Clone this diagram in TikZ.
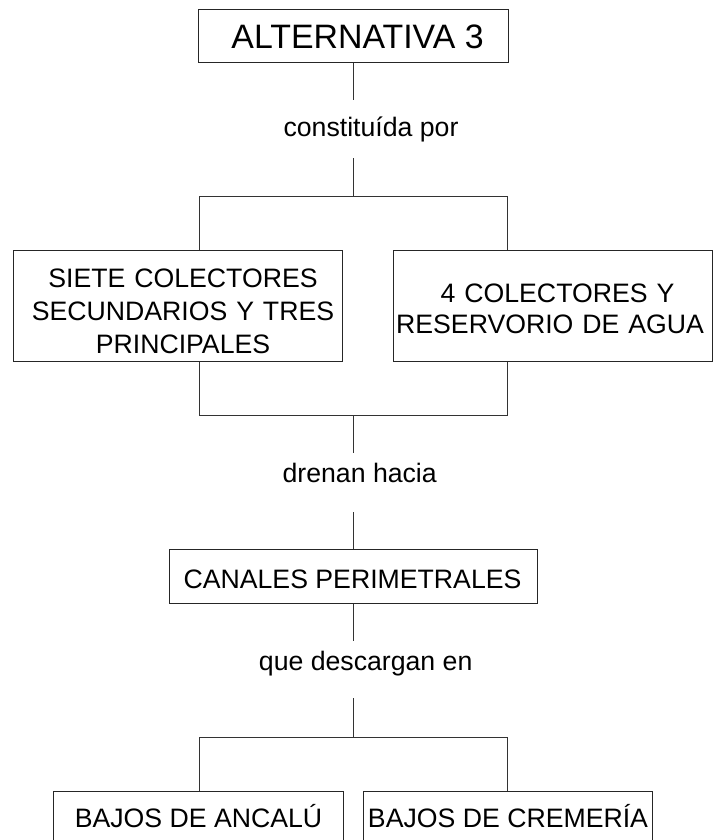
\documentclass[tikz,border=0pt]{standalone}
\usepackage{fontspec}
\setmainfont{Liberation Sans}
\begin{document}
\begin{tikzpicture}[x=0.75pt,y=-0.75pt,
  box/.style={draw=black!85,line width=0.75pt,rectangle,inner sep=0pt},
  txt/.style={inner sep=0pt,anchor=base,font=\fontsize{20}{24}\selectfont},
  conn/.style={draw=black!80,line width=0.75pt}]
\useasboundingbox (0,0) rectangle (713,840);
\clip (0,0) rectangle (713,840);
% boxes
\node[box,minimum width=232.5pt,minimum height=39.75pt] (b0) at (353,35.5) {};
\node[box,minimum width=246.75pt,minimum height=83.25pt] (b1) at (177.5,305.5) {};
\node[box,minimum width=239.25pt,minimum height=83.25pt] (b2) at (552.5,305.5) {};
\node[box,minimum width=276pt,minimum height=40.5pt] (b3) at (353,576) {};
\node[box,minimum width=217.5pt,minimum height=75pt] (b4) at (198,841) {};
\node[box,minimum width=216.75pt,minimum height=75pt] (b5) at (507.5,841) {};
% texts
\node[txt,font=\fontsize{25.4}{30}\selectfont] (t0) at (357.5,48) {ALTERNATIVA 3};
\node[txt] (l1) at (371,136) {constituída por};
\node[txt,text width=240pt,align=center,font=\fontsize{20}{25.1}\selectfont] (t1) at (183,287)
  {SIETE COLECTORES\\SECUNDARIOS Y TRES\\PRINCIPALES\hspace*{9pt}};
\node[txt,text width=236pt,align=center,font=\fontsize{20}{23.7}\selectfont] (t2) at (550,302)
  {\hspace*{11.25pt}4 COLECTORES Y\\RESERVORIO DE AGUA};
\node[txt] (l2) at (359.7,482) {drenan hacia};
\node[txt] (t3) at (352.5,588) {CANALES PERIMETRALES};
\node[txt] (l3) at (365.7,670) {que descargan en};
\node[txt] (t4) at (198.5,827) {BAJOS DE ANCALÚ};
\node[txt] (t5) at (508,827) {BAJOS DE CREMERÍA};
% connector coordinates
\coordinate (c1) at (353,100);
\coordinate (c2) at (353,158);
\coordinate (jl1) at (199,196);
\coordinate (jr1) at (507,196);
\coordinate (jl2) at (199,415);
\coordinate (jr2) at (507,415);
\coordinate (c3) at (353,453);
\coordinate (c4) at (353,512);
\coordinate (c5) at (353,641);
\coordinate (c6) at (353,698);
\coordinate (jl3) at (199,737);
\coordinate (jr3) at (507,737);
% connectors
\draw[conn] (b0.south) -- (c1);
\draw[conn] (c2) -- (c2 |- jl1);
\draw[conn] (jl1 |- b1.north) -- (jl1) -- (jr1) -- (jr1 |- b2.north);
\draw[conn] (jl2 |- b1.south) -- (jl2) -- (jr2) -- (jr2 |- b2.south);
\draw[conn] (c3 |- jl2) -- (c3);
\draw[conn] (c4) -- (b3.north);
\draw[conn] (b3.south) -- (c5);
\draw[conn] (c6) -- (c6 |- jl3);
\draw[conn] (jl3 |- b4.north) -- (jl3) -- (jr3) -- (jr3 |- b5.north);
\end{tikzpicture}
\end{document}
